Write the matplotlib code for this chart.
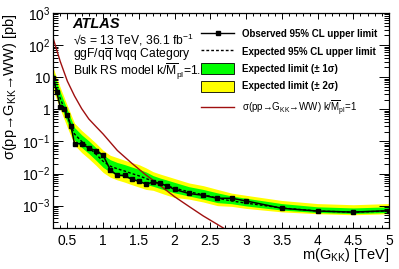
import numpy as np
import matplotlib
matplotlib.use("Agg")
import matplotlib.pyplot as plt
from matplotlib.ticker import MultipleLocator, FuncFormatter, LogLocator, NullFormatter
from matplotlib.patches import Patch
from matplotlib.lines import Line2D

plt.rcParams['font.family'] = ['Liberation Sans', 'DejaVu Sans']
plt.rcParams['mathtext.fontset'] = 'custom'
plt.rcParams['mathtext.rm'] = 'Liberation Sans'
plt.rcParams['mathtext.it'] = 'Liberation Sans:italic'
plt.rcParams['mathtext.bf'] = 'Liberation Sans:bold'

# observed limit
obs_mass = [0.3, 0.35, 0.4, 0.45, 0.5, 0.55, 0.6, 0.7, 0.8, 0.9, 1.0, 1.1, 1.2, 1.3, 1.4, 1.5,
            1.6, 1.7, 1.8, 1.9, 2.0, 2.2, 2.4, 2.6, 2.8, 3.0, 3.5, 4.0, 4.5, 5.0]
obs_xs = [9.5, 3.5, 1.2, 1.0, 0.65, 0.3, 0.085, 0.085, 0.062, 0.052, 0.037, 0.013, 0.0087, 0.0088,
          0.0066, 0.0058, 0.0047, 0.0054, 0.0049, 0.0041, 0.0032, 0.0024, 0.0021, 0.0017, 0.0017,
          0.0014, 0.00083, 0.00068, 0.00063, 0.0007]

# expected limit and bands
exp_mass = [0.3, 0.4, 0.5, 0.6, 0.7, 0.8, 0.9, 1.0, 1.1, 1.2, 1.3, 1.4, 1.5, 1.6, 1.7, 1.8,
            1.9, 2.0, 2.2, 2.4, 2.6, 2.8, 3.0, 3.5, 4.0, 4.5, 5.0]
exp_xs = [9, 2.2, 0.6, 0.17, 0.1, 0.065, 0.04, 0.024, 0.017, 0.014, 0.012, 0.01, 0.0085, 0.007,
          0.0057, 0.0048, 0.0041, 0.0035, 0.0027, 0.0022, 0.0017, 0.0014, 0.0012, 0.00085,
          0.00068, 0.00063, 0.00068]
exp_p2 = [19.8, 4.8, 1.3, 0.37, 0.22, 0.14, 0.088, 0.053, 0.037, 0.031, 0.026, 0.022, 0.019, 0.015,
          0.0114, 0.0096, 0.0082, 0.007, 0.0051, 0.0042, 0.0032, 0.00245, 0.0021, 0.00145,
          0.00116, 0.00107, 0.00116]
exp_p1 = [14.4, 3.5, 0.96, 0.27, 0.16, 0.104, 0.064, 0.038, 0.027, 0.022, 0.019, 0.016, 0.0136,
          0.0112, 0.0086, 0.0072, 0.0062, 0.0053, 0.0039, 0.0032, 0.0025, 0.002, 0.0017, 0.00116,
          0.00092, 0.00085, 0.00092]
exp_m1 = [5.9, 1.43, 0.39, 0.11, 0.065, 0.042, 0.026, 0.0156, 0.011, 0.0091, 0.0078, 0.0065, 0.0055,
          0.0046, 0.004, 0.0034, 0.0029, 0.0025, 0.002, 0.0016, 0.00124, 0.00115, 0.00098, 0.00073,
          0.00061, 0.00057, 0.00061]
exp_m2 = [4.0, 1.0, 0.27, 0.077, 0.045, 0.029, 0.018, 0.0108, 0.0077, 0.0063, 0.0054, 0.0045, 0.0038,
          0.0032, 0.003, 0.0025, 0.0021, 0.0018, 0.0016, 0.0013, 0.001, 0.00095, 0.00082, 0.00064,
          0.00056, 0.00052, 0.00056]

# theory prediction
th_mass = [0.3, 0.4, 0.5, 0.6, 0.7, 0.8, 0.9, 1.0, 1.2, 1.4, 1.6, 1.8, 2.0, 2.2, 2.4, 2.6, 2.8, 3.0]
th_xs = [165, 31, 7.5, 2.6, 1.05, 0.5, 0.29, 0.17, 0.052, 0.021, 0.009, 0.0042, 0.0019, 0.00095,
         0.00048, 0.00026, 0.00014, 0.00008]

fig = plt.figure(figsize=(3.99, 2.69), dpi=100)
ax = fig.add_axes([0.133, 0.152, 0.842, 0.80])

ax.fill_between(exp_mass, exp_m2, exp_p2, color='#ffff00', lw=0)
ax.fill_between(exp_mass, exp_m1, exp_p1, color='#00ff00', lw=0)
ax.plot(exp_mass, exp_xs, color='black', ls=(0, (2, 1.5)), lw=1.0)
ax.plot(th_mass, th_xs, color='#a01010', lw=1.0)
ax.plot(obs_mass, obs_xs, color='black', lw=1.1, marker='s', ms=2.2)

ax.set_yscale('log')
ax.set_xlim(0.3, 5)
ax.set_ylim(2e-4, 1e3)

ax.xaxis.set_major_locator(MultipleLocator(0.5))
ax.xaxis.set_minor_locator(MultipleLocator(0.1))
ax.xaxis.set_major_formatter(FuncFormatter(lambda v, p: '%g' % v))
ax.yaxis.set_major_locator(LogLocator(base=10, numticks=20))
ax.yaxis.set_minor_locator(LogLocator(base=10, subs=np.arange(2, 10), numticks=20))
ax.yaxis.set_minor_formatter(NullFormatter())

def yfmt(v, p):
    e = int(round(np.log10(v)))
    if e == 0:
        return '1'
    if e == 1:
        return '10'
    return r'$10^{%d}$' % e

ax.yaxis.set_major_formatter(FuncFormatter(yfmt))
ax.tick_params(axis='both', which='both', direction='in', top=True, right=True, labelsize=10)
ax.tick_params(axis='x', which='major', length=4.5, width=0.7, pad=4)
ax.tick_params(axis='x', which='minor', length=2.3, width=0.7)
ax.tick_params(axis='y', which='major', length=7, width=0.7, pad=2)
ax.tick_params(axis='y', which='minor', length=3.5, width=0.7)
for s in ax.spines.values():
    s.set_linewidth(0.9)

ax.set_xlabel('m(G$_{\\rm KK}$) [TeV]', fontsize=10.5, loc='right', labelpad=-1)
ax.set_ylabel('\u03c3(pp\u2192G$_{\\rm KK}$\u2192WW) [pb]', fontsize=10.5, loc='top')
ax.yaxis.set_label_coords(-0.1, 1.0)

ax.text(0.058, 0.948, 'ATLAS', transform=ax.transAxes, fontsize=10.5, fontweight='bold',
        style='italic', va='center')
ax.text(0.058, 0.874, '\u221as = 13 TeV, 36.1 fb$^{-1}$', transform=ax.transAxes,
        fontsize=8.7, va='center')
ax.text(0.058, 0.805, 'ggF/q$\\overline{\\rm q}$ lvqq Category', transform=ax.transAxes,
        fontsize=8.7, va='center')
ax.text(0.058, 0.73, 'Bulk RS model k/$\\overline{\\rm M}_{\\rm pl}$=1.0', transform=ax.transAxes,
        fontsize=8.7, va='center')

handles = [
    Line2D([], [], color='black', lw=1.0, marker='s', ms=2.2),
    Line2D([], [], color='black', lw=1.0, ls=(0, (2, 1.5))),
    Patch(facecolor='#00ff00', edgecolor='black', lw=0.6),
    Patch(facecolor='#ffff00', edgecolor='black', lw=0.6),
    Line2D([], [], color='#a01010', lw=1.0),
]
labels = [
    'Observed 95% CL upper limit',
    'Expected 95% CL upper limit',
    'Expected limit (\u00b1 1\u03c3)',
    'Expected limit (\u00b1 2\u03c3)',
    '\u03c3(pp\u2192G$_{\\rm KK}$\u2192WW) k/$\\overline{\\rm M}_{\\rm pl}$=1',
]
leg = ax.legend(handles, labels, loc='upper left', bbox_to_anchor=(0.43, 0.945), frameon=False,
                fontsize=7, handlelength=3.4, handleheight=1.35, labelspacing=0.66,
                handletextpad=0.8, borderaxespad=0)
for t in leg.get_texts()[:4]:
    t.set_fontweight('bold')

fig.savefig('out.png', dpi=100)
